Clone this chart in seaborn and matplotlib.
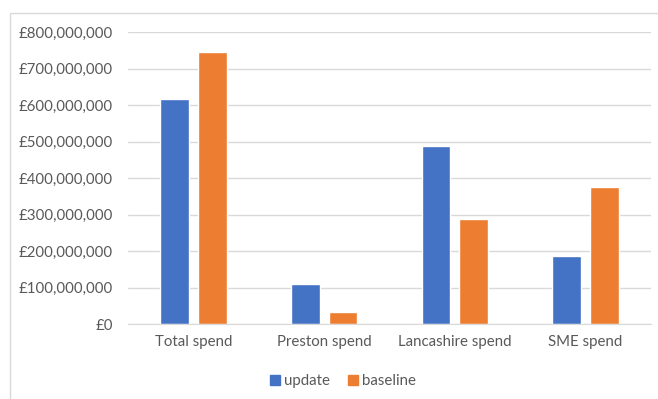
import pandas as pd
import matplotlib.pyplot as plt
import matplotlib.patches as mpatches
import matplotlib.ticker as mticker
import seaborn as sns

# values (GBP)
categories = ['Total spend', 'Preston spend', 'Lancashire spend', 'SME spend']
update = [616e6, 110e6, 488e6, 186e6]
baseline = [745e6, 33e6, 288e6, 375e6]
series = ['update', 'baseline']
colors = ['#4472C4', '#ED7D31']

df = pd.DataFrame({'category': categories * 2,
                   'series': ['update'] * 4 + ['baseline'] * 4,
                   'value': update + baseline})

sns.set_style('white')
plt.rcParams['font.family'] = ['Lato', 'DejaVu Sans']

fig = plt.figure(figsize=(6.58, 3.99), dpi=100)
ax = fig.add_axes([128 / 658, 1 - 324 / 399, (651 - 128) / 658, (324 - 32) / 399])

sns.barplot(data=df, x='category', y='value', hue='series', hue_order=series,
            palette=colors, width=0.58, gap=0.24, ax=ax, legend=False,
            saturation=1, zorder=3)

ax.set_ylim(0, 800e6)
ax.yaxis.set_major_locator(mticker.MultipleLocator(100e6))
ax.yaxis.set_major_formatter(mticker.FuncFormatter(lambda v, p: f'£{v:,.0f}'))
ax.grid(axis='y', color='#d9d9d9', linewidth=1, zorder=0)
for s in ['top', 'right', 'left']:
    ax.spines[s].set_visible(False)
ax.spines['bottom'].set_color('#d9d9d9')
ax.spines['bottom'].set_zorder(4)
ax.tick_params(axis='both', length=0, labelsize=10.8, colors='#595959', pad=8)
ax.tick_params(axis='y', pad=11)
ax.set_xlabel('')
ax.set_ylabel('')

handles = [mpatches.Patch(color=c, label=l) for c, l in zip(colors, series)]
fig.legend(handles=handles, loc='center', bbox_to_anchor=(343 / 658, 1 - 381 / 399),
           ncol=2, frameon=False, fontsize=10.8, handlelength=0.65, handleheight=0.65,
           handletextpad=0.3, columnspacing=1.2, labelcolor='#595959')

# outer chart border
fig.patches.append(mpatches.Rectangle((10 / 658, -0.05), 1.0, 1 - 13 / 399 + 0.05,
                                      transform=fig.transFigure, fill=False,
                                      edgecolor='#d9d9d9', linewidth=1))

fig.savefig('out.png', dpi=100)
